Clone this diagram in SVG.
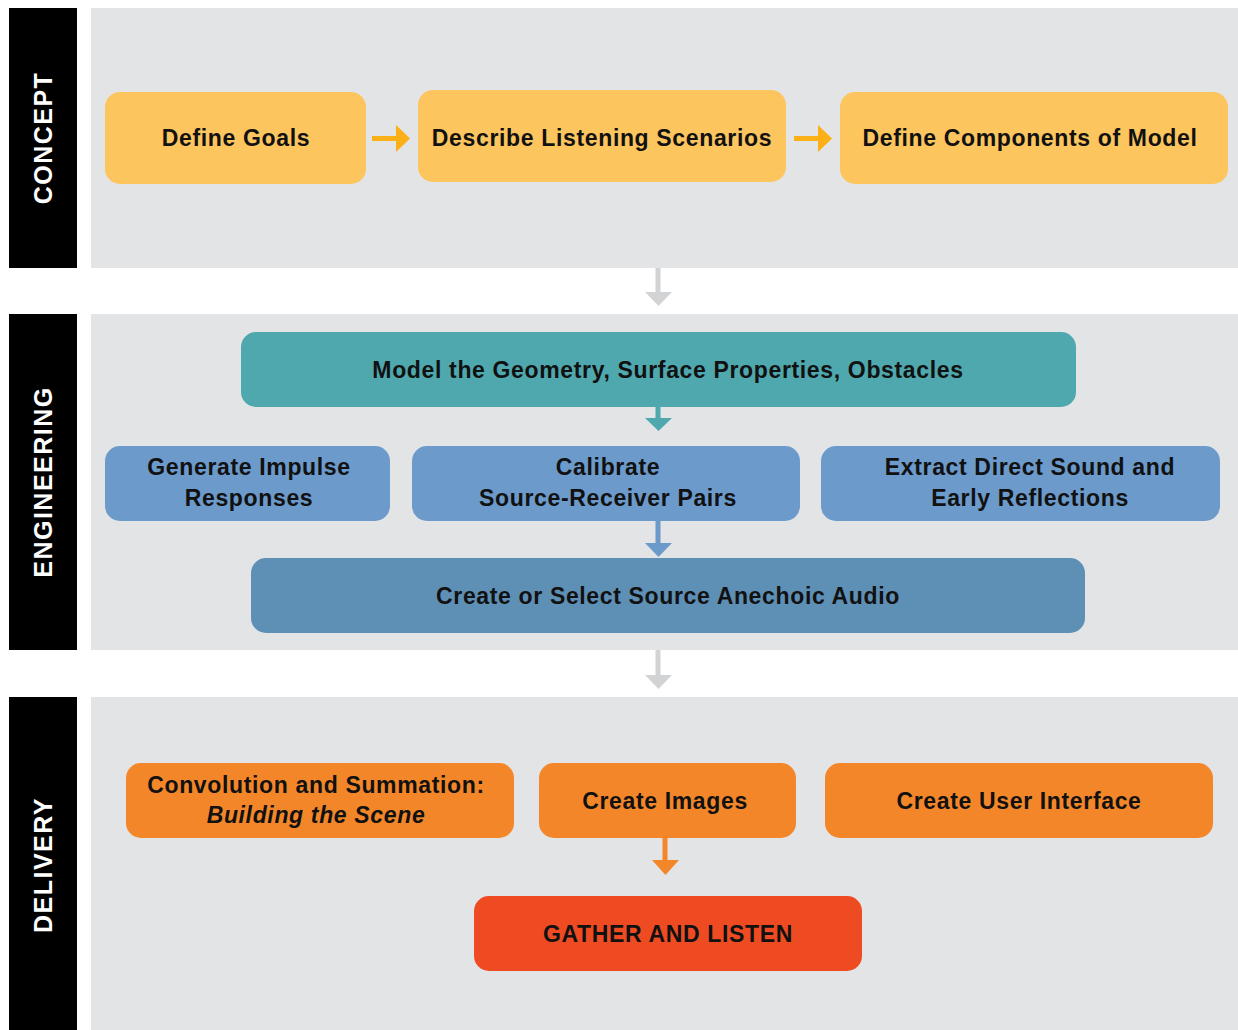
<svg xmlns="http://www.w3.org/2000/svg" width="1238" height="1030" viewBox="0 0 1238 1030">
  <style>
    .band { fill: #000000; }
    .panel { fill: #e3e4e6; }
    .side { font-family: "Liberation Sans", Arial, sans-serif; font-weight: bold; font-size: 25px; fill: #ffffff; text-anchor: middle; letter-spacing: 1.5px; }
    .lbl { font-family: "Liberation Sans", Arial, sans-serif; font-weight: bold; font-size: 23px; fill: #111111; text-anchor: middle; letter-spacing: 0.65px; }
    .it { font-style: italic; }
    .yellow { fill: #fdc55e; }
    .teal { fill: #4fa8ae; }
    .blue { fill: #6b9acb; }
    .dblue { fill: #5e8fb5; }
    .orange { fill: #f4862a; }
    .red { fill: #ef4b23; }
  </style>

  <rect width="1238" height="1030" fill="#ffffff"/>

  <!-- Section bands and panels -->
  <g id="section-concept">
    <rect class="band" x="9" y="8" width="68" height="260"/>
    <rect class="panel" x="91" y="8" width="1147" height="260"/>
    <text class="side" transform="translate(52,138) rotate(-90)">CONCEPT</text>
  </g>
  <g id="section-engineering">
    <rect class="band" x="9" y="314" width="68" height="336"/>
    <rect class="panel" x="91" y="314" width="1147" height="336"/>
    <text class="side" transform="translate(52,482) rotate(-90)">ENGINEERING</text>
  </g>
  <g id="section-delivery">
    <rect class="band" x="9" y="697" width="68" height="333"/>
    <rect class="panel" x="91" y="697" width="1147" height="333"/>
    <text class="side" transform="translate(52,865) rotate(-90)">DELIVERY</text>
  </g>

  <!-- Connectors -->
  <g id="connectors">
    <!-- concept row arrows -->
    <rect x="372" y="136" width="26" height="5" fill="#fbb018"/>
    <polygon points="396,125 410,138.5 396,152" fill="#fbb018"/>
    <rect x="794" y="136" width="26" height="5" fill="#fbb018"/>
    <polygon points="818,125 832,138.5 818,152" fill="#fbb018"/>
    <!-- between sections -->
    <rect x="655.5" y="268" width="5" height="25" fill="#d1d3d5"/>
    <polygon points="645,292 672,292 658.5,306" fill="#d1d3d5"/>
    <rect x="655.5" y="650" width="5" height="26" fill="#d1d3d5"/>
    <polygon points="645,675 672,675 658.5,689" fill="#d1d3d5"/>
    <!-- engineering -->
    <rect x="655.5" y="407" width="5" height="12" fill="#4fa8ae"/>
    <polygon points="645,418 672,418 658.5,431" fill="#4fa8ae"/>
    <rect x="655.5" y="521" width="5" height="23" fill="#6b9acb"/>
    <polygon points="645,543 672,543 658.5,557" fill="#6b9acb"/>
    <!-- delivery -->
    <rect x="662.5" y="838" width="5" height="23" fill="#f4862a"/>
    <polygon points="652,860 679,860 665.5,875" fill="#f4862a"/>
  </g>

  <!-- Concept nodes -->
  <g id="define-goals">
    <rect class="yellow" x="105" y="92" width="261" height="92" rx="15"/>
    <text class="lbl" x="236" y="146">Define Goals</text>
  </g>
  <g id="describe-scenarios">
    <rect class="yellow" x="418" y="90" width="368" height="92" rx="15"/>
    <text class="lbl" x="602" y="146">Describe Listening Scenarios</text>
  </g>
  <g id="define-components">
    <rect class="yellow" x="840" y="92" width="388" height="92" rx="15"/>
    <text class="lbl" x="1030" y="146">Define Components of Model</text>
  </g>

  <!-- Engineering nodes -->
  <g id="model-geometry">
    <rect class="teal" x="241" y="332" width="835" height="75" rx="15"/>
    <text class="lbl" x="668" y="378">Model the Geometry, Surface Properties, Obstacles</text>
  </g>
  <g id="generate-ir">
    <rect class="blue" x="105" y="446" width="285" height="75" rx="15"/>
    <text class="lbl" x="249" y="475">Generate Impulse</text>
    <text class="lbl" x="249" y="506">Responses</text>
  </g>
  <g id="calibrate-pairs">
    <rect class="blue" x="412" y="446" width="388" height="75" rx="15"/>
    <text class="lbl" x="608" y="475">Calibrate</text>
    <text class="lbl" x="608" y="506">Source-Receiver Pairs</text>
  </g>
  <g id="extract-direct">
    <rect class="blue" x="821" y="446" width="399" height="75" rx="15"/>
    <text class="lbl" x="1030" y="475">Extract Direct Sound and</text>
    <text class="lbl" x="1030" y="506">Early Reflections</text>
  </g>
  <g id="anechoic-audio">
    <rect class="dblue" x="251" y="558" width="834" height="75" rx="15"/>
    <text class="lbl" x="668" y="604">Create or Select Source Anechoic Audio</text>
  </g>

  <!-- Delivery nodes -->
  <g id="convolution">
    <rect class="orange" x="126" y="763" width="388" height="75" rx="15"/>
    <text class="lbl" x="316" y="793">Convolution and Summation:</text>
    <text class="lbl it" x="316" y="823">Building the Scene</text>
  </g>
  <g id="create-images">
    <rect class="orange" x="539" y="763" width="257" height="75" rx="15"/>
    <text class="lbl" x="665" y="809">Create Images</text>
  </g>
  <g id="create-ui">
    <rect class="orange" x="825" y="763" width="388" height="75" rx="15"/>
    <text class="lbl" x="1019" y="809">Create User Interface</text>
  </g>
  <g id="gather-listen">
    <rect class="red" x="474" y="896" width="388" height="75" rx="15"/>
    <text class="lbl" x="668" y="942">GATHER AND LISTEN</text>
  </g>
</svg>
